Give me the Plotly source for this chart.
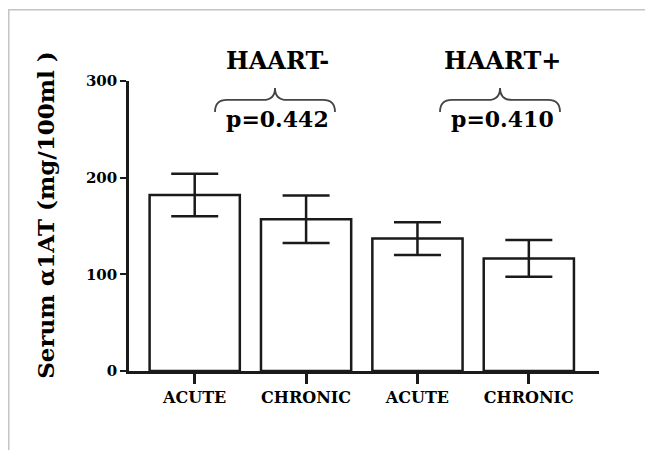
import plotly.graph_objects as go

# ---- data ----
categories = ["ACUTE", "CHRONIC", "ACUTE", "CHRONIC"]
groups = ["HAART-", "HAART+"]
p_values = ["p=0.442", "p=0.410"]
means = [182, 157, 137, 116.5]
errors = [22, 24.5, 17, 19]
y_ticks = [0, 100, 200, 300]

W, H = 653, 450
OFF = 8  # page body margin offset
L, R, T, B = 129 - OFF, 62, 81 - OFF, 86.5
pw, ph = W - L - R, H - T - B


def px(x):
    return (x - OFF - L) / pw


def py(y):
    return (H - B - (y - OFF)) / ph


positions = list(range(len(categories)))

fig = go.Figure()
fig.add_trace(go.Bar(
    x=positions, y=means, width=0.81,
    marker=dict(color="white", line=dict(color="#1a1a1a", width=2.5)),
    error_y=dict(type="data", array=errors, visible=True, color="#1a1a1a",
                 thickness=2.5, width=23.5),
    showlegend=False, hoverinfo="skip",
))

SERIF = "DejaVu Serif"
fig.update_layout(
    width=W, height=H,
    margin=dict(l=L, r=R, t=T, b=B),
    paper_bgcolor="white", plot_bgcolor="white",
    bargap=0.19,
    xaxis=dict(
        range=[-0.59, 3.63], tickmode="array", tickvals=positions, ticktext=categories,
        showgrid=False, zeroline=False, showline=True, linecolor="#1a1a1a", linewidth=2.5,
        ticks="outside", ticklen=10, tickwidth=2.5, tickcolor="#1a1a1a",
        tickfont=dict(family=SERIF, size=16, color="black", weight="bold"),
    ),
    yaxis=dict(
        range=[0, 300], tickmode="array", tickvals=y_ticks,
        showgrid=False, zeroline=False, showline=True, linecolor="#1a1a1a", linewidth=2.5,
        ticks="outside", ticklen=6, tickwidth=2, tickcolor="#1a1a1a",
        tickfont=dict(family=SERIF, size=15, color="black", weight="bold"),
    ),
)

annotations = [
    dict(text="<b>Serum α1AT (mg/100ml )</b>", x=px(46), y=py(215), xref="paper", yref="paper",
         textangle=-90, showarrow=False, xanchor="center", yanchor="middle",
         font=dict(family=SERIF, size=23, color="black")),
]
shapes = []
for i, (g, pv) in enumerate(zip(groups, p_values)):
    cx = 277 + i * 225
    annotations.append(dict(text=f"<b>{g}</b>", x=px(cx), y=py(60), xref="paper", yref="paper",
                            showarrow=False, xanchor="center", yanchor="middle",
                            font=dict(family=SERIF, size=24, color="black")))
    annotations.append(dict(text=f"<b>{pv}</b>", x=px(cx), y=py(119), xref="paper", yref="paper",
                            showarrow=False, xanchor="center", yanchor="middle",
                            font=dict(family=SERIF, size=22, color="black")))
    bx = cx - 2
    l, r = bx - 60, bx + 60
    pts = [
        ("M", [(l, 112)]), ("Q", [(l, 100), (l + 12, 100)]), ("L", [(bx - 12, 100)]),
        ("Q", [(bx, 100), (bx, 88)]), ("Q", [(bx, 100), (bx + 12, 100)]),
        ("L", [(r - 12, 100)]), ("Q", [(r, 100), (r, 112)]),
    ]
    path = " ".join(c + " " + " ".join(f"{px(a):.5f},{py(b):.5f}" for a, b in p) for c, p in pts)
    shapes.append(dict(type="path", path=path, xref="paper", yref="paper",
                       line=dict(color="#444444", width=1.8)))

shapes.append(dict(type="rect", xref="paper", yref="paper",
                   x0=px(8.75), x1=px(680), y0=py(9.75), y1=py(480),
                   line=dict(color="#c4c4c4", width=1.5)))

fig.update_layout(annotations=annotations, shapes=shapes)
fig.write_html("out.html")
